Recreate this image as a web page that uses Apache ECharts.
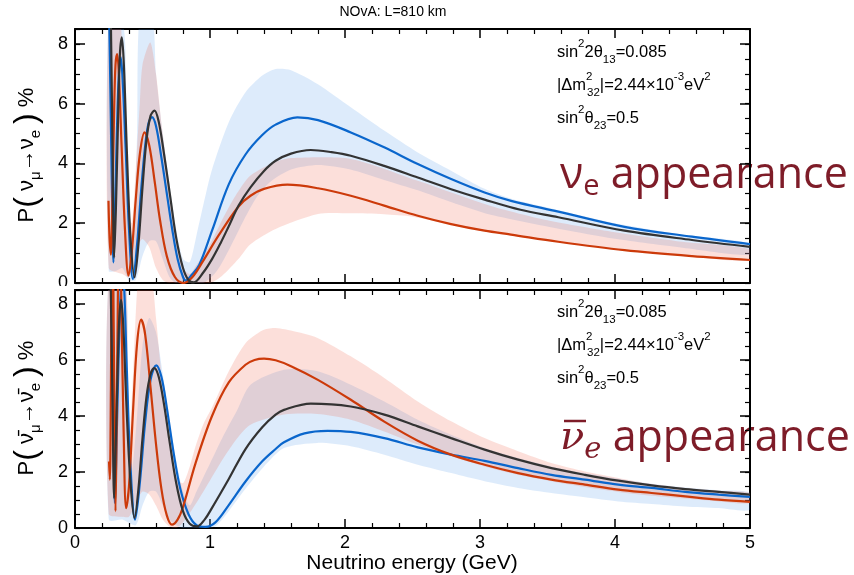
<!DOCTYPE html>
<html><head><meta charset="utf-8">
<script src="https://cdn.jsdelivr.net/npm/echarts@6/dist/echarts.min.js"></script>
<style>html,body{margin:0;padding:0;background:#fff}#c{width:854px;height:575px}</style>
</head><body><div id="c"></div>
<script>
// ---------- DATA (energy in GeV, probability in %) ----------
// Top panel: neutrino
const nuBlack = [[0.250,13],[0.262,10.0],[0.278,4.5],[0.290,0.86],[0.303,2.5],[0.318,5.3],[0.332,7.6],[0.347,8.22],[0.362,7.3],[0.385,4.3],[0.410,1.6],[0.441,0.19],[0.470,1.3],[0.500,3.2],[0.530,4.8],[0.560,5.6],[0.589,5.77],[0.620,5.4],[0.660,4.3],[0.705,2.9],[0.750,1.5],[0.800,0.5],[0.840,0.1],[0.879,0.02],[0.950,0.35],[1.015,0.8],[1.080,1.35],[1.139,1.9],[1.213,2.6],[1.300,3.2],[1.400,3.75],[1.486,4.09],[1.600,4.33],[1.746,4.45],[1.900,4.38],[2.043,4.26],[2.290,3.92],[2.539,3.53],[2.786,3.14],[3.034,2.79],[3.300,2.45],[3.580,2.20],[4.070,1.75],[4.570,1.44],[5.000,1.21]];
const nuBlue = [[0.250,9.8],[0.262,6.5],[0.274,3.0],[0.285,0.69],[0.297,2.6],[0.310,5.0],[0.325,7.0],[0.339,7.55],[0.355,6.6],[0.375,4.5],[0.400,1.8],[0.429,0.13],[0.460,1.3],[0.490,3.1],[0.520,4.6],[0.545,5.35],[0.570,5.55],[0.600,5.25],[0.640,4.2],[0.680,3.0],[0.720,1.8],[0.760,0.8],[0.800,0.2],[0.822,0.08],[0.860,0.25],[0.920,0.6],[1.015,1.75],[1.139,3.3],[1.263,4.3],[1.387,4.95],[1.486,5.3],[1.647,5.54],[1.800,5.45],[2.043,5.04],[2.290,4.54],[2.539,3.98],[2.786,3.48],[3.034,3.03],[3.230,2.75],[3.580,2.39],[4.070,1.88],[4.570,1.55],[5.000,1.30]];
const nuRed = [[0.248,2.75],[0.256,1.5],[0.266,0.95],[0.278,3.0],[0.290,5.8],[0.300,7.3],[0.312,7.66],[0.325,7.0],[0.345,4.6],[0.370,1.8],[0.396,0.25],[0.420,1.0],[0.450,2.8],[0.480,4.3],[0.515,5.04],[0.550,4.6],[0.590,3.4],[0.630,2.1],[0.680,0.9],[0.740,0.2],[0.805,0.0],[0.870,0.2],[0.941,0.68],[1.065,1.6],[1.213,2.57],[1.300,2.92],[1.400,3.15],[1.573,3.29],[1.800,3.17],[2.043,2.92],[2.290,2.59],[2.539,2.25],[2.786,1.97],[3.034,1.75],[3.230,1.62],[3.580,1.38],[4.070,1.10],[4.570,0.90],[5.000,0.77]];
const nuBlueBandUpper = [[0.25,9],[0.36,8.6],[0.38,5.0],[0.40,2.0],[0.43,1.5],[0.46,5.0],[0.48,9],[0.57,9],[0.60,7.0],[0.65,5.0],[0.70,3.3],[0.75,1.8],[0.80,0.8],[0.85,0.7],[0.90,1.6],[0.95,2.6],[1.015,3.8],[1.139,5.38],[1.263,6.38],[1.387,6.94],[1.486,7.16],[1.60,7.12],[1.796,6.66],[2.043,5.88],[2.29,5.10],[2.539,4.37],[2.786,3.76],[3.034,3.15],[3.232,2.82],[3.60,2.42],[4.0,2.0],[4.5,1.62],[5.0,1.32]];
const nuBlueBandLower = [[0.25,0.4],[0.30,0.4],[0.35,0.5],[0.40,0.1],[0.45,0.1],[0.50,0.9],[0.55,1.4],[0.60,1.4],[0.65,0.8],[0.70,0.2],[0.75,0.0],[0.95,0.0],[1.05,0.4],[1.15,1.2],[1.25,2.1],[1.35,2.9],[1.45,3.4],[1.60,3.8],[1.80,3.95],[2.04,3.8],[2.29,3.45],[2.54,3.1],[2.79,2.7],[3.08,2.28],[3.60,1.8],[4.0,1.48],[4.5,1.18],[5.0,0.94]];
const nuRedBandUpper = [[0.25,9],[0.33,9],[0.36,6.0],[0.38,3.0],[0.42,2.0],[0.45,3.8],[0.48,6.0],[0.50,7.3],[0.558,8.05],[0.60,7.0],[0.644,5.2],[0.70,3.2],[0.743,1.85],[0.80,0.5],[0.85,0.3],[0.90,0.6],[1.0,1.3],[1.1,2.2],[1.2,3.0],[1.3,3.6],[1.486,4.05],[1.60,4.18],[2.043,4.15],[2.539,3.42],[3.08,2.58],[3.5,2.1],[4.0,1.7],[4.5,1.38],[5.0,1.13]];
const nuRedBandLower = [[0.25,0.5],[0.35,0.3],[0.40,0.2],[0.45,1.0],[0.497,1.47],[0.55,1.2],[0.60,0.5],[0.65,0.1],[0.70,0.0],[1.0,0.0],[1.09,0.24],[1.21,0.8],[1.3,1.3],[1.486,1.81],[1.8,2.31],[2.04,2.33],[2.29,2.3],[2.5,2.22],[2.79,1.95],[3.03,1.73],[3.58,1.36],[4.07,1.08],[4.57,0.88],[5.0,0.75]];

// Bottom panel: antineutrino
const nubarBlack = [[0.250,13],[0.265,8.5],[0.278,4.5],[0.290,1.07],[0.302,3.0],[0.315,5.5],[0.328,7.5],[0.342,8.15],[0.358,7.2],[0.380,4.5],[0.410,1.7],[0.441,0.36],[0.470,1.4],[0.500,3.2],[0.530,4.7],[0.560,5.5],[0.587,5.71],[0.620,5.4],[0.660,4.4],[0.700,3.1],[0.750,1.6],[0.800,0.6],[0.850,0.15],[0.904,0.06],[0.960,0.3],[1.015,0.72],[1.139,1.75],[1.263,2.82],[1.387,3.6],[1.486,4.05],[1.548,4.22],[1.747,4.44],[2.043,4.34],[2.291,4.05],[2.539,3.63],[2.786,3.21],[3.034,2.80],[3.282,2.44],[3.529,2.14],[3.777,1.90],[4.025,1.69],[4.272,1.52],[4.520,1.39],[4.768,1.29],[5.000,1.19]];
const nubarBlue = [[0.250,13],[0.270,8.0],[0.283,4.0],[0.295,0.9],[0.310,3.5],[0.325,6.5],[0.340,8.6],[0.352,9.2],[0.365,8.5],[0.385,5.5],[0.410,2.3],[0.445,0.3],[0.480,1.6],[0.520,3.8],[0.560,5.3],[0.602,5.81],[0.640,5.4],[0.680,4.3],[0.730,2.7],[0.780,1.4],[0.840,0.5],[0.900,0.1],[0.966,0.04],[1.040,0.2],[1.139,0.82],[1.263,1.66],[1.387,2.38],[1.486,2.82],[1.548,3.06],[1.700,3.38],[1.870,3.47],[2.043,3.43],[2.291,3.21],[2.539,2.88],[2.786,2.62],[3.034,2.40],[3.282,2.14],[3.529,1.90],[3.777,1.73],[4.025,1.55],[4.272,1.43],[4.520,1.29],[4.768,1.19],[5.000,1.11]];
const nubarRed = [[0.252,2.38],[0.258,1.73],[0.266,5.0],[0.272,8.6],[0.280,9.5],[0.287,7.0],[0.294,3.0],[0.300,0.6],[0.307,3.0],[0.315,7.0],[0.325,9.5],[0.335,9.5],[0.345,7.5],[0.360,3.5],[0.379,0.71],[0.400,1.5],[0.430,4.2],[0.460,6.6],[0.490,7.44],[0.520,6.9],[0.560,5.0],[0.600,3.0],[0.640,1.4],[0.680,0.45],[0.718,0.12],[0.760,0.3],[0.800,0.75],[0.892,2.3],[1.015,4.0],[1.139,5.2],[1.263,5.83],[1.330,6.0],[1.400,6.05],[1.486,5.99],[1.600,5.78],[1.796,5.30],[2.043,4.58],[2.291,3.8],[2.539,3.12],[2.786,2.62],[3.034,2.26],[3.282,1.96],[3.529,1.73],[3.777,1.55],[4.025,1.37],[4.272,1.25],[4.520,1.13],[4.768,1.01],[5.000,0.93]];
const nubarRedBandUpper = [[0.25,9],[0.37,9],[0.39,5.0],[0.40,3.0],[0.43,5.5],[0.46,8.5],[0.48,9],[0.56,9],[0.60,7.5],[0.65,5.0],[0.70,3.0],[0.75,1.8],[0.80,1.6],[0.85,2.2],[0.892,2.9],[0.95,3.7],[1.015,4.3],[1.139,5.6],[1.263,6.6],[1.387,7.05],[1.474,7.14],[1.60,7.05],[1.796,6.79],[2.043,6.13],[2.291,5.36],[2.539,4.52],[2.786,3.81],[3.034,3.21],[3.282,2.74],[3.529,2.32],[3.777,2.02],[4.025,1.79],[4.272,1.57],[4.520,1.43],[4.768,1.33],[5.0,1.25]];
const nubarRedBandLower = [[0.25,0.5],[0.35,0.4],[0.40,0.4],[0.45,0.9],[0.50,1.3],[0.55,1.2],[0.60,0.8],[0.65,0.3],[0.70,0.05],[0.75,0.0],[0.80,0.2],[0.90,0.9],[1.0,1.7],[1.1,2.5],[1.2,3.2],[1.3,3.69],[1.548,4.05],[1.796,4.07],[2.043,3.87],[2.291,3.45],[2.539,2.98],[2.786,2.56],[3.034,2.20],[3.282,1.90],[3.529,1.67],[3.777,1.46],[4.025,1.29],[4.272,1.15],[4.520,1.05],[4.768,0.95],[5.0,0.89]];
const nubarBlueBandUpper = [[0.25,9],[0.37,9],[0.39,5.0],[0.42,2.0],[0.46,4.0],[0.50,6.5],[0.55,7.5],[0.60,7.0],[0.65,5.5],[0.70,3.8],[0.75,2.4],[0.80,1.3],[0.85,0.8],[0.90,1.3],[1.0,2.3],[1.1,3.3],[1.2,4.2],[1.3,5.12],[1.548,5.65],[1.796,5.60],[2.043,5.12],[2.291,4.52],[2.539,3.87],[2.786,3.33],[3.034,2.86],[3.282,2.50],[3.529,2.20],[3.777,1.96],[4.025,1.76],[4.272,1.58],[4.520,1.45],[4.768,1.35],[5.0,1.26]];
const nubarBlueBandLower = [[0.25,0.3],[0.35,0.3],[0.45,0.1],[0.50,0.8],[0.55,1.3],[0.60,1.3],[0.65,0.8],[0.70,0.3],[0.75,0.1],[0.80,0.0],[1.0,0.0],[1.05,0.1],[1.139,0.6],[1.263,1.4],[1.40,2.2],[1.548,2.86],[1.796,3.04],[2.043,2.92],[2.291,2.62],[2.539,2.26],[2.786,1.96],[3.034,1.67],[3.282,1.43],[3.529,1.25],[3.777,1.10],[4.025,0.95],[4.272,0.86],[4.520,0.77],[4.768,0.71],[5.0,0.65]];

const xTicks = [0, 1, 2, 3, 4, 5];
const yTicks = [0, 2, 4, 6, 8];

// ---------- STYLE ----------
const FONT = '"Liberation Sans", Arial, Helvetica, sans-serif';
const C_BLUE = '#0a66cc', C_BLACK = '#333333', C_RED = '#cc3a0a';
const F_BLUE = 'rgba(85,155,235,0.2)', F_RED = 'rgba(240,90,60,0.194)';
const MAROON = '#7e1c28';

function xAx(grid, pos, labels) {
  return {type:'value', gridIndex:grid, position:pos, min:xTicks[0], max:xTicks[xTicks.length-1], interval:1,
    axisLine:{show:true, onZero:false, lineStyle:{color:'#000', width:2}},
    axisTick:{show:true, inside:true, length:9, lineStyle:{color:'#000', width:1.5}},
    minorTick:{show:true, splitNumber:5, length:5, lineStyle:{color:'#000', width:1.2}},
    axisLabel:{show:labels, margin:6, color:'#000', fontFamily:FONT, fontSize:18},
    splitLine:{show:false}, minorSplitLine:{show:false}};
}
function yAx(grid, pos, major, labels) {
  return {type:'value', gridIndex:grid, position:pos, min:0, max:8.5, interval: major ? 2 : 0.5,
    axisLine:{show:major, onZero:false, lineStyle:{color:'#000', width:2}},
    axisTick:{show:true, inside:true, length: major ? 10 : 5, lineStyle:{color:'#000', width: major ? 1.5 : 1.2}},
    axisLabel:{show:labels, margin:7, color:'#000', fontFamily:FONT, fontSize:18,
      formatter: v => (yTicks.indexOf(v) >= 0 ? String(v) : '')},
    splitLine:{show:false}};
}
function band(up, lo, color, xi, yi) {
  return {type:'custom', xAxisIndex:xi, yAxisIndex:yi, data:[[0,0]], silent:true, z:1,
    renderItem: (params, api) => {
      const pts = up.map(p => api.coord(p)).concat(lo.slice().reverse().map(p => api.coord(p)));
      const cs = params.coordSys;
      return {type:'polygon', shape:{points:pts, smooth:0.25}, style:{fill:color},
        clipPath:{type:'rect', shape:{x:cs.x, y:cs.y, width:cs.width, height:cs.height}}};
    }};
}
function line(data, color, xi, yi, z) {
  return {type:'line', xAxisIndex:xi, yAxisIndex:yi, data:data, showSymbol:false, smooth:0.35,
    lineStyle:{color:color, width:2.2}, z:z, clip:true, silent:true};
}

const chart = echarts.init(document.getElementById('c'), null, {renderer:'canvas'});
const txt = {fontFamily:FONT, fontSize:16.5, fill:'#000', lineHeight:28};
const sup = {fontFamily:FONT, fontSize:11.5, fill:'#000', lineHeight:11, verticalAlign:'top'};
const sub = {fontFamily:FONT, fontSize:11.5, fill:'#000', lineHeight:11, verticalAlign:'bottom'};
function params(y0) {
  return [
    {type:'text', left:557, top:y0, z:5, style:{text:'{t|sin}{p|2}{t|2θ}{b|13}{t|=0.085}', rich:{t:txt, p:sup, b:sub}}},
    {type:'text', left:557, top:y0+33, z:5, style:{text:'{t||Δm}{q|2}{b|32}{t||=2.44×10}{p|-3}{t|eV}{p|2}', rich:{t:txt, p:sup, b:sub, q:Object.assign({}, sup, {width:1})}}},
    {type:'text', left:557, top:y0+66, z:5, style:{text:'{t|sin}{p|2}{t|θ}{b|23}{t|=0.5}', rich:{t:txt, p:sup, b:sub}}}
  ];
}
const ytT = {fontFamily:FONT, fontSize:22, fill:'#000', lineHeight:32};
const ytB = {fontFamily:FONT, fontSize:32, fill:'#000', lineHeight:32};
const ytS = {fontFamily:FONT, fontSize:15, fill:'#000', lineHeight:15, verticalAlign:'bottom'};

const option = {
  animation:false,
  backgroundColor:'#fff',
  grid:[{left:75, top:29, width:675, height:254}, {left:75, top:290, width:675, height:238}],
  xAxis:[xAx(0,'bottom',false), xAx(0,'top',false), xAx(1,'bottom',true), xAx(1,'top',false)],
  yAxis:[yAx(0,'left',true,true), yAx(0,'left',false,false), yAx(0,'right',true,false), yAx(0,'right',false,false),
         yAx(1,'left',true,true), yAx(1,'left',false,false), yAx(1,'right',true,false), yAx(1,'right',false,false)],
  series:[
    band(nuBlueBandUpper, nuBlueBandLower, F_BLUE, 0, 0),
    band(nuRedBandUpper, nuRedBandLower, F_RED, 0, 0),
    line(nuBlue, C_BLUE, 0, 0, 3), line(nuRed, C_RED, 0, 0, 3), line(nuBlack, C_BLACK, 0, 0, 4),
    band(nubarBlueBandUpper, nubarBlueBandLower, F_BLUE, 2, 4),
    band(nubarRedBandUpper, nubarRedBandLower, F_RED, 2, 4),
    line(nubarBlue, C_BLUE, 2, 4, 3), line(nubarRed, C_RED, 2, 4, 3), line(nubarBlack, C_BLACK, 2, 4, 4)
  ],
  graphic:[
    {type:'rect', shape:{x:40, y:286, width:720, height:3}, style:{fill:'#fff'}, z:10},
    {type:'text', x:393, y:12, z:5, style:{text:'NOvA: L=810 km', fontFamily:FONT, fontSize:14, fill:'#000', align:'center', verticalAlign:'middle'}},
    {type:'text', x:412, y:563, z:5, style:{text:'Neutrino energy (GeV)', fontFamily:FONT, fontSize:21, fill:'#000', align:'center', verticalAlign:'middle'}},
    {type:'text', x:27, y:155, rotation:Math.PI/2, z:5, style:{text:'{t|P}{b|(}{t| ν}{s|μ}{t|→ν}{s|e}{t| }{b|)}{t| %}', rich:{t:ytT, b:ytB, s:ytS}, align:'center', verticalAlign:'middle'}},
    {type:'text', x:27, y:408, rotation:Math.PI/2, z:5, style:{text:'{t|P}{b|(}{t| ν\u0304}{s|μ}{t|→ν\u0304}{s|e}{t| }{b|)}{t| %}', rich:{t:ytT, b:ytB, s:ytS}, align:'center', verticalAlign:'middle'}},
    ...params(38), ...params(298),
    {type:'text', left:560, top:154, z:-1, style:{text:'{v|ν}{e|e}{a| appearance}', rich:{
      v:{fontFamily:'"Open Sans"', fontSize:43, fill:MAROON, lineHeight:52},
      e:{fontFamily:'"Open Sans"', fontSize:29, fill:MAROON, lineHeight:29, verticalAlign:'bottom'},
      a:{fontFamily:'"Open Sans"', fontSize:43, fill:MAROON, lineHeight:52}}}},
    {type:'text', left:560, top:417, z:-1, style:{text:'{v|ν}{e|e}{a| appearance}', rich:{
      v:{fontFamily:'"DejaVu Serif"', fontStyle:'italic', fontSize:40, fill:MAROON, lineHeight:52},
      e:{fontFamily:'"DejaVu Serif"', fontStyle:'italic', fontSize:29, fill:MAROON, lineHeight:29, verticalAlign:'bottom'},
      a:{fontFamily:'"Open Sans"', fontSize:43, fill:MAROON, lineHeight:52}}}},
    {type:'line', z:-1, shape:{x1:564, y1:421, x2:586, y2:421}, style:{stroke:MAROON, lineWidth:2.5}}
  ]
};
chart.setOption(option);
</script>
</body></html>
